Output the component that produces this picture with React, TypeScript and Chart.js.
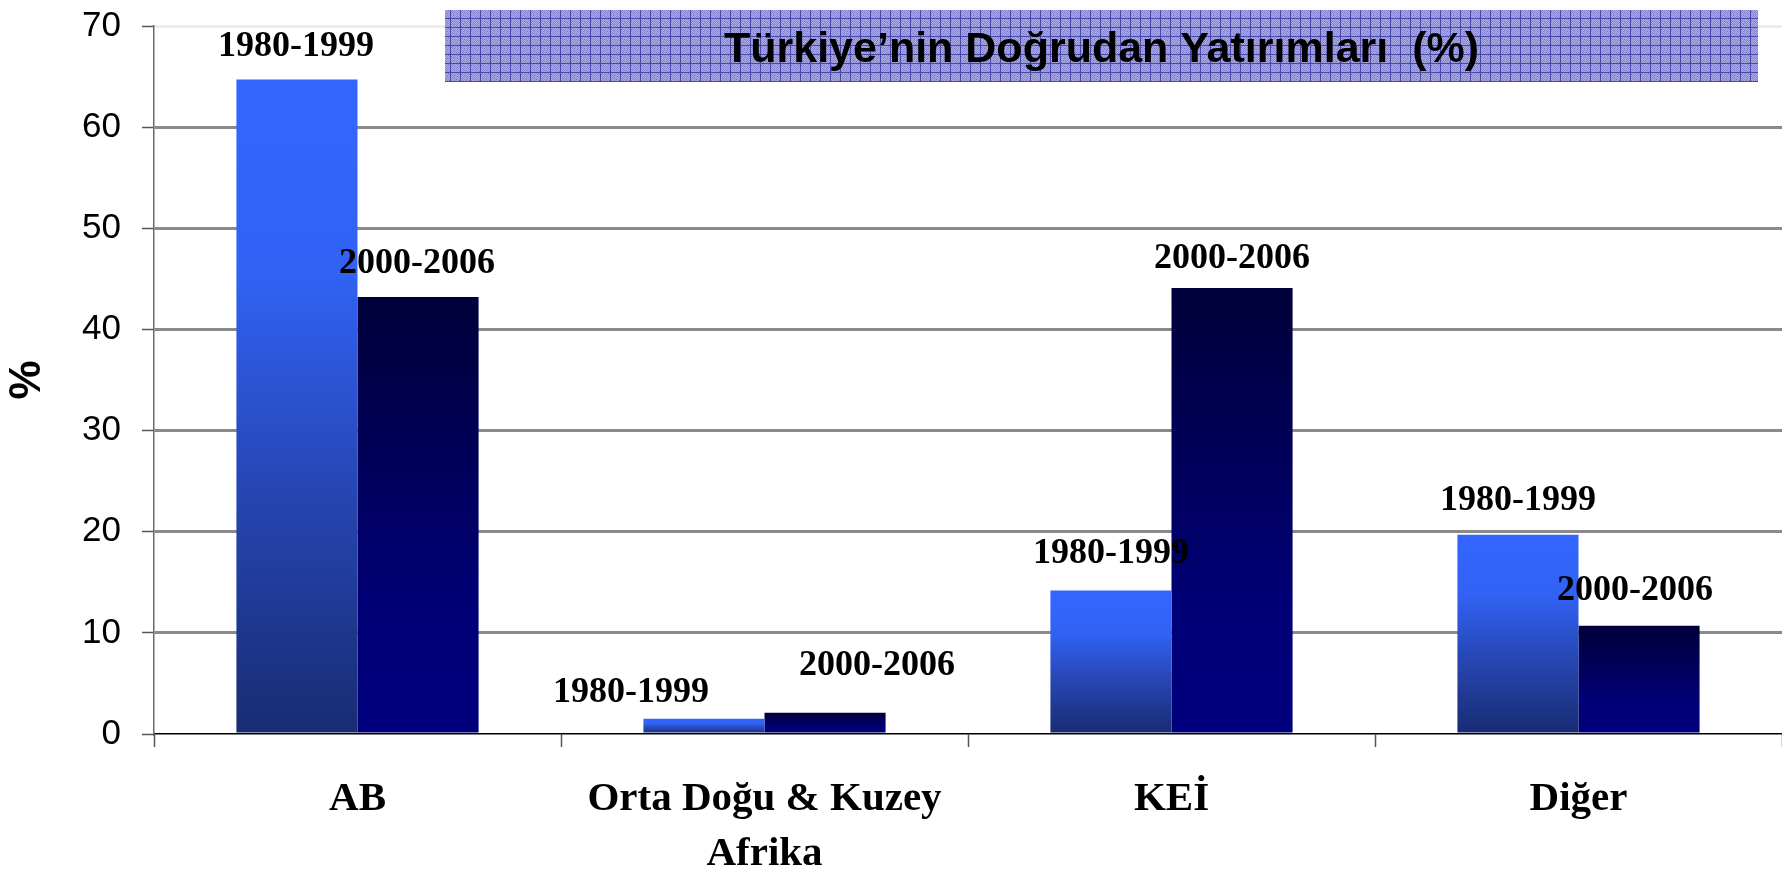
import React, { useEffect, useRef } from 'react';
import { Chart, registerables } from 'chart.js';

Chart.register(...registerables);

// ---- data ----
const categories: (string | string[])[] = ['AB', ['Orta Doğu & Kuzey', 'Afrika'], 'KEİ', 'Diğer'];
const seriesNames = ['1980-1999', '2000-2006'];
const values1980to1999 = [64.7, 1.5, 14.2, 19.7];
const values2000to2006 = [43.2, 2.1, 44.1, 10.7];
const yTickValues = [0, 10, 20, 30, 40, 50, 60, 70];
const chartTitle = 'Türkiye’nin Doğrudan Yatırımları  (%)';
const yAxisTitle = '%';

// nudges for the period annotations above each bar (pixels)
const annotDx = [
  [-1, -73, 0, 0],
  [-1, 52, 0, -4],
];
const annotGap = [
  [24, 17, 27, 25],
  [24, 38, 20, 26],
];

const W = 1782;
const H = 873;
const SERIF = '"Liberation Serif", "Times New Roman", serif';
const SANS = '"Liberation Sans", Arial, sans-serif';

const gradStops = [
  [
    [0, '#3366ff'],
    [0.3, '#3162f4'],
    [0.6, '#2748b8'],
    [1, '#182c72'],
  ],
  [
    [0, '#00003a'],
    [0.35, '#000058'],
    [0.7, '#000076'],
    [1, '#00007e'],
  ],
];

function barGradient(dsIndex: number) {
  return (ctx: any) => {
    const chart = ctx.chart;
    const fallback = dsIndex === 0 ? '#3366ff' : '#000070';
    if (!chart.chartArea || ctx.type !== 'data') return fallback;
    const y = chart.scales.y;
    const v = ctx.raw as number;
    const top = y.getPixelForValue(v);
    const base = y.getPixelForValue(0);
    if (!isFinite(top) || !isFinite(base) || Math.abs(base - top) < 0.5) return fallback;
    const g = chart.ctx.createLinearGradient(0, top, 0, base);
    for (const [o, c] of gradStops[dsIndex]) g.addColorStop(o as number, c as string);
    return g;
  };
}

function makePattern(ctx: CanvasRenderingContext2D) {
  const c = document.createElement('canvas');
  c.width = 10;
  c.height = 9;
  const p = c.getContext('2d')!;
  for (let i = 0; i < 10; i++) {
    for (let j = 0; j < 9; j++) {
      let col;
      if (i === 0 || j === 0) col = '#4848aa';
      else if ((i + j) % 2 === 0) col = '#aaaae4';
      else if ((i * 3 + j) % 5 === 0) col = '#7070c4';
      else col = '#8c8cd4';
      p.fillStyle = col;
      p.fillRect(i, j, 1, 1);
    }
  }
  return ctx.createPattern(c, 'repeat');
}

const overlayPlugin = {
  id: 'overlay',
  afterDatasetsDraw(chart: any) {
    const ctx: CanvasRenderingContext2D = chart.ctx;
    ctx.save();
    ctx.font = `bold 36px ${SERIF}`;
    ctx.fillStyle = '#000';
    ctx.textAlign = 'center';
    ctx.textBaseline = 'alphabetic';
    chart.data.datasets.forEach((ds: any, di: number) => {
      const meta = chart.getDatasetMeta(di);
      meta.data.forEach((bar: any, i: number) => {
        ctx.fillText(seriesNames[di], bar.x + annotDx[di][i], bar.y - annotGap[di][i]);
      });
    });
    ctx.restore();
  },
  afterDraw(chart: any) {
    const ctx: CanvasRenderingContext2D = chart.ctx;
    ctx.save();
    const bx = 445, by = 10, bw = 1313, bh = 72;
    const pat = makePattern(ctx);
    ctx.fillStyle = pat || '#8a8ad0';
    ctx.fillRect(bx, by, bw, bh);
    ctx.font = `bold 43px ${SANS}`;
    ctx.fillStyle = '#000';
    ctx.textAlign = 'center';
    ctx.textBaseline = 'alphabetic';
    ctx.fillText(chartTitle, bx + bw / 2, 62);
    ctx.restore();
  },
};

export default function App() {
  const ref = useRef<HTMLCanvasElement | null>(null);
  useEffect(() => {
    document.body.style.margin = '0';
    const canvas = ref.current!;
    const chart = new Chart(canvas, {
      type: 'bar',
      data: {
        labels: categories as any,
        datasets: [
          {
            label: seriesNames[0],
            data: values1980to1999,
            backgroundColor: barGradient(0) as any,
            borderWidth: 0,
            categoryPercentage: 0.595,
            barPercentage: 1.0,
          },
          {
            label: seriesNames[1],
            data: values2000to2006,
            backgroundColor: barGradient(1) as any,
            borderWidth: 0,
            categoryPercentage: 0.595,
            barPercentage: 1.0,
          },
        ],
      },
      options: {
        responsive: false,
        animation: false,
        devicePixelRatio: 1,
        layout: { padding: { top: 26, left: 0, right: 0, bottom: 0 } },
        plugins: {
          legend: { display: false },
          tooltip: { enabled: false },
          title: { display: false },
        },
        scales: {
          x: {
            offset: true,
            grid: {
              display: true,
              offset: true,
              drawOnChartArea: false,
              drawTicks: true,
              tickLength: 13,
              tickColor: '#555',
              tickWidth: 1.5,
              color: '#555',
            },
            border: { display: true, color: '#000', width: 1.5 },
            ticks: {
              color: '#000',
              font: { family: SERIF, size: 41, weight: 'bold', lineHeight: 55 / 41 },
              padding: 25,
              maxRotation: 0,
              minRotation: 0,
              autoSkip: false,
            },
            afterFit: (s: any) => {
              s.height = H - 734;
              s.paddingLeft = 0;
              s.paddingRight = 0;
            },
          },
          y: {
            min: 0,
            max: 70,
            afterBuildTicks: (s: any) => {
              s.ticks = yTickValues.map((v) => ({ value: v }));
            },
            grid: {
              color: (c: any) => {
                const v = c.tick ? c.tick.value : null;
                if (v === 70) return '#ececec';
                if (v === 0) return 'rgba(0,0,0,0)';
                return '#8a8a8a';
              },
              lineWidth: 3,
              drawTicks: true,
              tickLength: 12,
              tickColor: '#555',
              tickWidth: 1.5,
            },
            border: { display: true, color: '#6a6a6a', width: 1.5 },
            ticks: {
              color: '#000',
              font: { family: SANS, size: 35 },
              padding: 21,
            },
            title: {
              display: true,
              text: yAxisTitle,
              color: '#000',
              font: { family: SANS, size: 44, weight: 'bold', lineHeight: 1 },
              padding: { top: 6, bottom: 0 },
            },
            afterFit: (s: any) => {
              s.width = 154;
              s.paddingTop = 0;
              s.paddingBottom = 0;
            },
          },
        },
      },
      plugins: [overlayPlugin],
    });
    return () => chart.destroy();
  }, []);

  return (
    <div style={{ width: W, height: H, position: 'relative' }}>
      <canvas ref={ref} width={W} height={H} style={{ display: 'block', width: W, height: H }} />
    </div>
  );
}
